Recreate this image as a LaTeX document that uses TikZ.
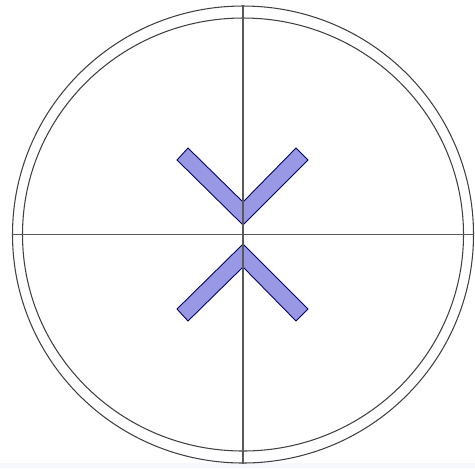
\documentclass[tikz,border=0pt]{standalone}
\definecolor{barfill}{RGB}{152,152,228}
\begin{document}
\begin{tikzpicture}[
        x=0.02cm,
        y=-0.02cm,
        line join=miter,
        % styles
        ring/.style={draw=black!75,line width=0.6pt},
        axis/.style={draw=black!65,line width=0.7pt},
        bar/.style={fill=barfill,draw=blue!40!black,line width=0.5pt},
    ]
    \useasboundingbox (0,0) rectangle (475,468);
    \fill[blue!3] (0,463) rectangle (475,468);

    % centre
    \coordinate (O) at (243,234.5);

    % two circles
    \draw[ring] (O) circle[x radius=230.5,y radius=228.5];
    \draw[ring] (O) circle[x radius=220.5,y radius=216.5];

    % upper chevron (V)
    \coordinate (U0) at (243,225);
    \coordinate (U1) at (243,202);
    \draw[bar] (177,160) -- (U0) -- (308,160) -- (296,148) -- (U1) -- (188,148) -- cycle;

    % lower chevron (^)
    \coordinate (L0) at (243,244);
    \coordinate (L1) at (243,267);
    \draw[bar] (177,309) -- (L0) -- (308,309) -- (296,321) -- (L1) -- (188,321) -- cycle;

    % cross lines
    \draw[axis] (243,5) -- (243,464);
    \draw[axis] (12,234.5) -- (474,234.5);
\end{tikzpicture}
\end{document}
